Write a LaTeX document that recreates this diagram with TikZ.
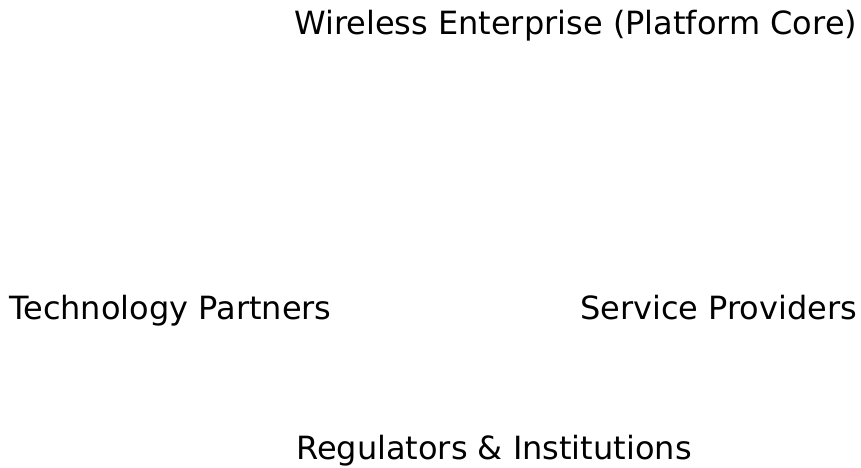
\documentclass[tikz,border=0pt]{standalone}
\usepackage{fontspec}
\setmainfont{DejaVu Sans}
\begin{document}
\begin{tikzpicture}[x=1pt,y=1pt,
  lbl/.style={inner sep=0pt, anchor=base west, font=\fontsize{32}{38}\selectfont}]
\useasboundingbox (0,0) rectangle (861,467);
\node[lbl] (core) at (294,432) {Wireless Enterprise (Platform Core)};
\node[lbl] (tech) at (9,148) {Technology Partners};
\node[lbl] (serv) at (580,148) {Service Providers};
\node[lbl] (reg) at (296,7.5) {Regulators \& Institutions};
\end{tikzpicture}
\end{document}
